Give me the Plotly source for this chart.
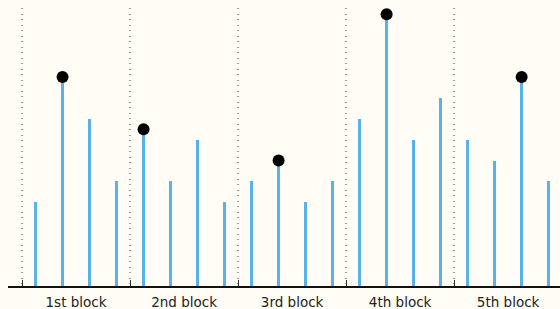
import numpy as np
import plotly.graph_objects as go

block_labels = ["1st block", "2nd block", "3rd block", "4th block", "5th block"]
block1 = [4, 10, 8, 5]
block2 = [7.5, 5, 7, 4]
block3 = [5, 6, 4, 5]
block4 = [8, 13, 7, 9]
block5 = [7, 6, 10, 5]

blocks = [block1, block2, block3, block4, block5]
values = [v for b in blocks for v in b]
xs = list(range(len(values)))
n_per = len(block1)

# highlighted max of each block
max_x, max_y = [], []
for i, b in enumerate(blocks):
    j = int(np.argmax(b))
    max_x.append(i * n_per + j)
    max_y.append(b[j])

boundaries = [i * n_per - 0.5 for i in range(len(blocks) + 1)]
centers = [i * n_per + (n_per - 1) / 2 for i in range(len(blocks))]

BG = "#FFFDF5"
fig = go.Figure()
fig.add_trace(go.Bar(x=xs, y=values, width=0.11, marker=dict(color="#56B4E9", line=dict(width=0)),
                     showlegend=False, hoverinfo="skip"))
fig.add_trace(go.Scatter(x=max_x, y=max_y, mode="markers",
                         marker=dict(color="black", size=12, line=dict(width=0)),
                         showlegend=False, hoverinfo="skip"))
fig.add_trace(go.Scatter(x=centers, y=[None] * len(centers), xaxis="x2", yaxis="y",
                         mode="markers", showlegend=False, hoverinfo="skip"))

fig.update_layout(
    width=560, height=309,
    margin=dict(l=8, r=0, t=8, b=23, autoexpand=False),
    paper_bgcolor=BG, plot_bgcolor=BG,
    font=dict(family="DejaVu Sans", size=13.5, color="#222222"),
    xaxis=dict(range=[-1.02, 19.42], tickmode="array", tickvals=boundaries,
               showticklabels=False, ticks="inside", ticklen=6, tickwidth=1, tickcolor="#333333",
               showgrid=True, gridcolor="#999999", gridwidth=2, griddash="1px,4.5px",
               showline=True, linecolor="#111111", linewidth=1.5, zeroline=False,
               automargin=False),
    xaxis2=dict(overlaying="x", matches="x", anchor="y", side="bottom",
                tickmode="array", tickvals=centers, ticktext=block_labels,
                ticks="", showgrid=False, showline=False, zeroline=False, automargin=False,
                ticklabelstandoff=6, tickfont=dict(size=13.5, color="#222222")),
    yaxis=dict(range=[0, 13.3], visible=False, showgrid=False, zeroline=False),
    bargap=0,
)

fig.write_html("out.html", config={"displayModeBar": False},
               post_script="document.body.style.margin='0';document.body.style.background='" + BG + "';")
